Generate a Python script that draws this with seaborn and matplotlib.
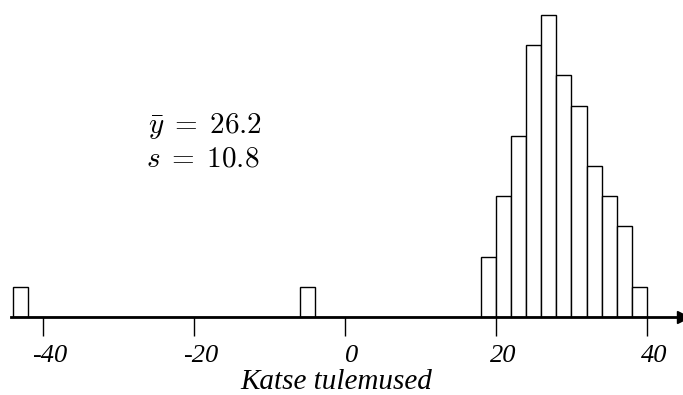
import matplotlib
matplotlib.use("Agg")
import matplotlib.pyplot as plt
import matplotlib.transforms as mtransforms
import numpy as np
import pandas as pd
import seaborn as sns

# histogram bins (width 2)
bin_left = [-44, -6, 18, 20, 22, 24, 26, 28, 30, 32, 34, 36, 38]
counts = [1, 1, 2, 4, 6, 9, 10, 8, 7, 5, 4, 3, 1]
tick_values = [-40, -20, 0, 20, 40]
tick_labels = ["-40", "-20", "0", "20", "40"]
mean_text = r"$\bar{y}\;=\;26.2$"
sd_text = r"$s\;=\;10.8$"
x_label = "Katse tulemused"

sns.set_style("white")
plt.rcParams["mathtext.fontset"] = "cm"
plt.rcParams["text.color"] = "black"
plt.rcParams["xtick.color"] = "black"

df = pd.DataFrame({"mid": np.array(bin_left) + 1, "n": counts})

fig = plt.figure(figsize=(6.83, 3.95), dpi=100)
ax = fig.add_axes([11.3 / 683, 78 / 395, 671.9 / 683, 317 / 395])
sns.histplot(data=df, x="mid", weights="n", binwidth=2, binrange=(-44, 40),
             color="white", edgecolor="black", linewidth=1, alpha=1, ax=ax)

ax.set_xlim(-44.2, 44.8)
ax.set_ylim(0, 10.5)
for s in ["top", "right", "left"]:
    ax.spines[s].set_visible(False)
ax.spines["bottom"].set_linewidth(2)
ax.spines["bottom"].set_color("black")
ax.set_yticks([])
ax.set_ylabel("")
ax.set_xlabel("")
ax.set_xticks(tick_values)
ax.set_xticklabels(tick_labels, fontsize=19, fontstyle="italic", family="Liberation Serif",
                   color="black")
ax.tick_params(axis="x", direction="out", length=14, width=1, color="black", pad=6, bottom=True)
shift = mtransforms.ScaledTranslation(7 / 100, 0, fig.dpi_scale_trans)
for lbl in ax.get_xticklabels():
    lbl.set_transform(lbl.get_transform() + shift)
ax.plot(1, 0, ">k", markersize=9, transform=ax.get_yaxis_transform(), clip_on=False)

fig.text(205 / 683, 1 - 126 / 395, mean_text, fontsize=21, ha="center", va="center")
fig.text(203 / 683, 1 - 159 / 395, sd_text, fontsize=21, ha="center", va="center")
fig.text(336 / 683, 1 - 382 / 395, x_label, fontsize=21, fontstyle="italic",
         family="Liberation Serif", ha="center", va="center")

fig.savefig("out.png", dpi=100, facecolor="white")
